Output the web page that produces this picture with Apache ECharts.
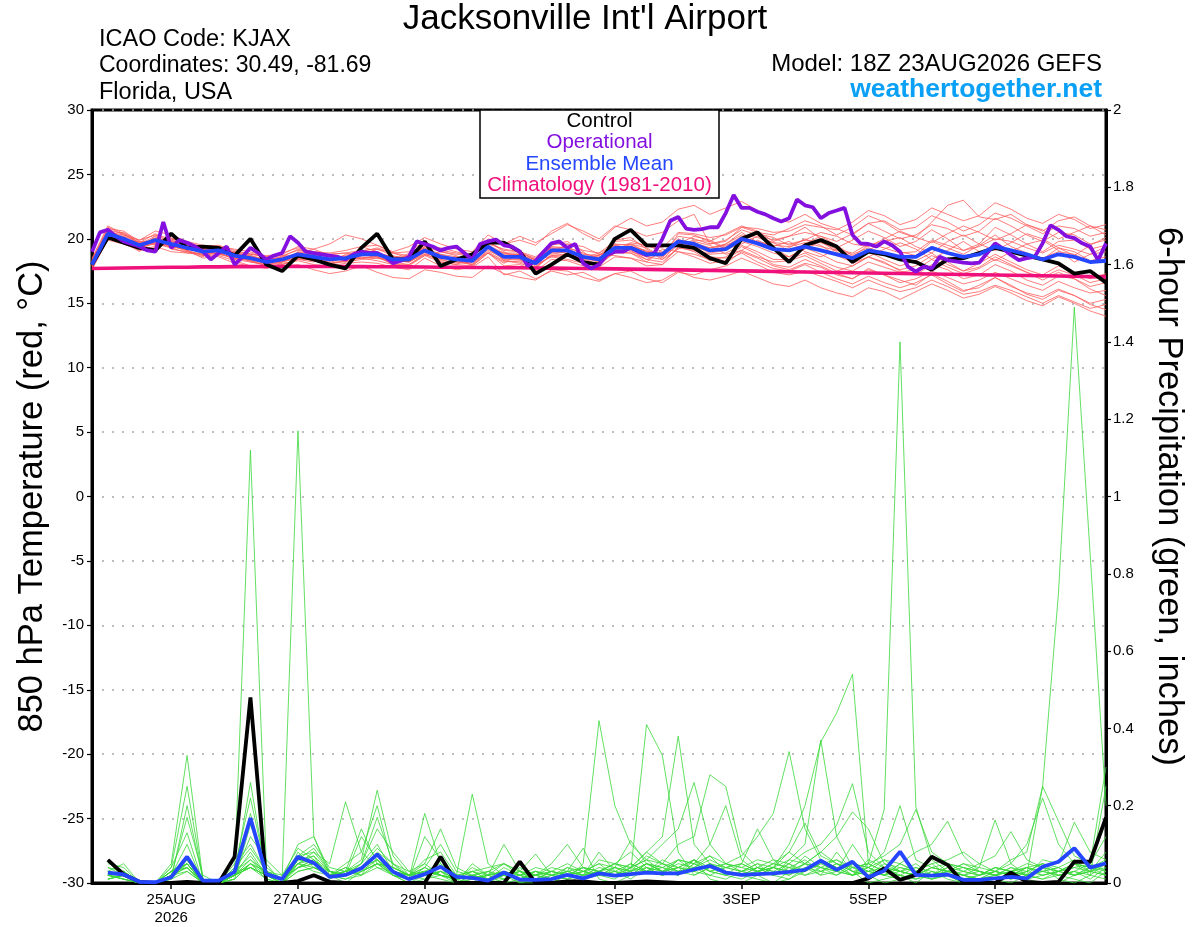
<!DOCTYPE html>
<html>
<head>
<meta charset="utf-8">
<script src="https://cdn.jsdelivr.net/npm/echarts@6.0.0/dist/echarts.min.js"></script>
<style>html,body{margin:0;padding:0;background:#fff}#c{width:1200px;height:927px}</style>
</head>
<body>
<div id="c"></div>
<script>
// ---------- axis ticks ----------
const tickHours = [30, 78, 126, 198, 246, 294, 342];
const tickLabels = ['25AUG\n2026', '27AUG', '29AUG', '1SEP', '3SEP', '5SEP', '7SEP'];

// ---------- 850 hPa temperature (deg C), 6-hourly from 18Z 23AUG ----------
const controlTemp = [18.0,20.1,19.7,19.3,19.1,20.4,19.3,19.4,19.3,18.7,20.0,18.0,17.5,18.7,18.4,18.0,17.7,19.3,20.4,18.4,18.4,19.8,17.9,18.4,18.8,19.7,19.7,19.0,17.3,18.0,18.8,18.2,18.0,20.0,20.7,19.5,19.5,19.5,19.3,18.5,18.1,20.0,20.5,19.3,18.2,19.5,19.9,19.4,18.2,19.0,18.8,18.4,18.2,17.6,18.4,18.5,18.9,19.3,19.0,18.7,18.4,18.1,17.3,17.5,16.6];
const meanTemp = [18.0,20.4,20.0,19.5,19.9,19.6,19.3,19.0,19.1,18.7,18.5,18.2,18.4,18.8,18.6,18.4,18.5,18.8,18.8,18.4,18.4,19.1,18.6,18.4,18.3,19.4,18.6,18.6,18.1,19.1,19.1,18.6,18.4,19.3,19.3,18.8,18.8,19.8,19.6,19.1,19.2,20.0,19.65,19.2,19.1,19.4,19.1,18.8,18.5,19.1,18.9,18.6,18.6,19.3,18.9,18.6,18.8,19.4,19.1,18.8,18.4,18.8,18.6,18.2,18.3];
const climatologyTemp = [17.7,17.72,17.74,17.76,17.78,17.8,17.8,17.82,17.82,17.84,17.84,17.85,17.85,17.85,17.85,17.85,17.84,17.84,17.83,17.83,17.82,17.81,17.8,17.79,17.78,17.77,17.76,17.75,17.74,17.73,17.72,17.7,17.69,17.67,17.65,17.63,17.61,17.59,17.57,17.55,17.53,17.51,17.49,17.47,17.45,17.43,17.41,17.39,17.37,17.35,17.33,17.31,17.29,17.27,17.25,17.23,17.21,17.19,17.17,17.15,17.13,17.11,17.09,17.07,17.05];
// operational run, 3-hourly
const operationalTemp = [19.0,20.5,20.7,20.2,19.8,19.6,19.4,19.1,19.0,21.3,19.3,19.9,19.7,19.4,19.0,18.4,18.9,19.4,18.0,18.6,19.3,18.9,18.4,18.7,18.9,20.2,19.7,19.0,18.9,18.8,18.7,18.6,18.4,18.8,19.0,18.9,18.9,18.6,18.1,18.3,18.6,19.8,19.6,19.4,19.1,19.3,19.4,18.9,18.4,19.6,19.8,19.95,19.5,19.4,19.0,17.9,18.3,19.0,19.65,19.8,19.3,19.6,18.1,17.7,18.0,18.75,19.0,19.0,19.3,19.0,18.75,18.9,20.0,21.4,21.7,20.8,20.7,20.75,20.9,20.9,22.0,23.4,22.4,22.4,22.1,21.9,21.6,21.35,21.6,23.05,22.6,22.45,21.6,22.0,22.2,22.4,20.3,19.65,19.6,19.4,19.8,19.5,19.0,17.85,17.45,17.85,17.7,18.6,18.35,18.25,18.15,18.1,18.15,18.9,19.65,19.25,18.75,18.35,18.5,18.6,19.65,21.05,20.7,20.2,20.05,19.65,19.4,18.35,19.65];

// ensemble members (red)
const t01 = [18.2,20.8,20.6,19.8,19.5,20.1,19.6,19.2,18.8,19.0,18.2,18.0,18.6,19.2,18.9,18.0,18.3,19.4,19.0,18.1,18.9,19.5,18.2,18.0,18.7,19.8,19.0,18.4,17.6,19.5,19.8,19.0,18.0,19.9,20.1,19.2,18.5,20.4,20.3,19.8,20.4,21.0,20.6,19.8,20.2,20.9,20.0,19.3,19.9,20.6,20.1,19.4,19.8,20.7,20.0,19.1,19.6,20.9,20.3,19.6,19.0,19.8,19.9,19.2,19.5];
const t02 = [17.9,20.2,19.8,19.0,20.3,19.2,19.0,18.6,19.4,18.4,18.9,18.5,18.0,18.4,18.2,18.8,18.9,18.5,18.3,18.0,17.9,18.7,19.0,18.7,17.9,18.9,18.1,18.9,18.5,18.6,18.4,18.1,18.8,18.7,18.5,18.2,19.2,19.0,18.8,18.4,18.1,19.0,18.5,17.9,17.6,18.1,17.8,17.2,16.9,17.6,17.2,16.6,16.9,17.5,17.0,16.5,16.8,17.4,16.9,16.4,16.0,16.7,16.2,15.8,16.0];
const t03 = [18.4,20.9,20.3,19.9,20.6,20.3,19.8,19.5,19.4,19.2,19.0,18.6,18.9,19.3,19.0,18.9,19.1,19.4,19.5,18.9,19.0,19.8,19.1,18.9,18.8,20.0,19.6,19.9,19.5,20.6,21.2,20.4,19.8,20.9,21.6,21.0,21.3,22.3,22.6,21.9,22.4,22.9,22.2,21.5,21.3,21.9,21.2,20.8,20.3,21.2,21.4,20.7,20.9,21.8,21.3,20.6,21.1,22.0,21.6,21.0,20.4,21.0,20.8,20.2,20.5];
const t04 = [17.7,19.9,19.6,19.2,19.4,19.0,18.9,18.8,18.6,18.1,17.9,17.8,17.9,18.0,17.6,17.3,17.5,17.9,17.4,17.0,16.9,17.6,17.4,17.1,17.0,17.9,17.3,17.0,16.8,17.6,17.5,17.0,16.7,17.3,17.5,16.9,16.6,17.4,17.2,17.6,17.9,18.5,18.0,17.4,17.2,17.5,17.1,16.7,16.2,16.8,16.3,15.9,16.2,16.8,16.3,15.7,15.9,16.4,16.0,15.5,15.0,15.6,15.1,14.6,14.9];
const t05 = [18.1,20.5,20.2,19.7,19.6,19.9,19.4,19.2,19.3,18.9,18.7,18.4,18.5,18.9,19.2,18.7,18.2,19.0,19.3,18.9,18.5,19.4,19.3,19.0,18.6,19.6,19.2,19.0,18.3,18.9,19.6,19.4,18.8,19.1,19.7,19.5,19.0,19.6,20.2,19.9,19.3,19.8,20.4,20.1,19.5,19.9,20.5,20.2,19.6,19.4,20.0,20.6,20.1,19.7,20.4,21.0,20.5,19.9,20.4,21.1,20.7,20.0,20.5,21.0,20.3];
const t06 = [18.3,20.7,19.9,19.3,20.1,19.8,19.1,18.7,19.2,18.5,18.3,18.1,18.7,18.6,18.3,18.1,18.8,19.0,18.6,18.2,18.6,19.3,18.4,18.1,18.2,19.5,18.3,18.1,17.7,18.8,19.0,18.3,17.9,19.0,18.9,18.2,18.0,19.4,19.0,18.3,18.6,19.4,18.8,18.0,17.8,18.4,17.9,17.3,16.9,17.7,17.2,16.8,16.4,17.3,16.7,16.0,16.2,17.0,16.4,15.7,15.3,16.0,15.6,14.9,14.5];
const t07 = [18.0,20.3,20.1,19.6,20.2,19.4,19.2,19.3,19.0,18.8,18.6,18.3,18.2,19.0,18.8,18.6,18.6,18.7,19.2,18.7,18.3,19.0,18.8,18.6,18.5,19.3,18.9,18.7,18.4,19.3,18.8,18.5,18.7,19.6,19.0,18.6,18.9,20.0,19.4,19.1,19.6,20.5,19.7,19.4,19.8,19.0,18.6,19.2,18.6,19.5,19.8,19.0,18.7,19.8,19.3,18.8,19.5,20.3,19.4,18.9,18.4,19.3,19.0,18.3,18.6];
const t08 = [17.8,20.1,19.7,19.4,19.7,19.5,19.5,18.9,18.9,18.5,18.4,18.2,18.3,18.5,18.7,18.3,18.4,18.6,18.5,18.4,18.2,18.9,18.5,18.3,18.0,19.1,18.5,18.5,17.9,18.7,18.8,18.4,18.3,18.9,19.4,19.1,18.4,19.2,19.8,19.5,18.8,19.1,19.9,19.3,18.6,19.2,19.8,19.0,18.1,18.6,19.2,19.7,19.2,18.4,19.1,19.8,19.0,18.3,19.0,19.6,19.9,19.1,18.2,18.8,19.4];
const t09 = [18.5,21.0,20.4,19.6,19.8,20.0,19.7,19.4,19.5,19.1,18.8,18.7,18.8,19.4,19.2,19.6,20.3,20.0,19.5,19.0,19.4,20.1,19.6,19.2,19.0,20.3,19.6,20.2,19.7,20.4,21.1,20.6,20.0,21.0,20.7,20.2,20.5,21.4,21.9,19.6,19.8,20.9,20.5,20.3,20.8,21.4,21.0,20.3,20.9,21.8,21.3,20.5,20.1,21.3,22.6,23.0,21.7,21.5,21.9,21.1,20.6,21.4,21.7,21.0,20.7];
const t10 = [18.2,20.6,19.6,19.1,19.3,19.7,19.1,18.5,18.7,18.3,17.9,17.7,18.1,18.3,18.0,17.9,18.1,18.2,18.1,17.8,17.6,18.5,17.9,17.6,17.8,18.6,17.2,17.5,16.9,17.5,17.2,17.4,16.8,17.3,17.0,16.6,16.8,17.5,17.0,16.8,17.1,17.5,17.0,16.5,16.3,16.8,16.2,15.8,15.5,16.2,15.9,15.3,15.9,16.5,16.0,15.4,15.7,16.3,15.8,15.2,14.8,15.5,15.0,14.4,14.0];
const t11 = [17.6,20.0,20.2,19.3,19.9,19.3,19.3,19.1,19.2,18.6,18.5,18.4,18.6,18.8,18.4,18.5,18.5,19.1,18.9,18.6,18.7,19.2,18.7,18.4,18.5,19.4,18.8,18.8,18.2,19.2,19.4,18.8,18.7,19.6,19.5,19.0,18.7,19.9,19.7,19.3,19.6,20.3,20.1,19.7,19.6,19.9,19.7,19.2,18.9,19.6,19.3,18.9,19.0,19.9,19.5,19.1,19.4,20.0,19.8,19.3,18.9,19.5,19.2,18.8,19.0];
const t12 = [18.0,20.4,20.5,19.7,20.4,19.7,19.4,19.0,18.9,18.8,18.6,18.0,18.3,18.7,18.6,18.3,18.6,18.8,18.6,18.1,18.5,19.0,18.6,18.2,18.1,19.2,18.4,18.4,18.0,19.0,19.1,18.7,18.4,19.1,19.2,18.6,18.4,19.6,19.2,18.8,18.9,19.5,19.0,18.4,18.4,18.9,18.3,17.8,17.5,18.2,17.8,17.4,17.6,18.4,17.8,17.3,17.7,18.4,17.9,17.4,17.0,17.6,17.2,16.6,16.9];
const t13 = [18.4,20.6,19.9,19.8,19.8,19.5,19.0,18.8,19.1,18.7,18.3,17.9,18.2,18.6,18.8,18.6,18.4,18.5,18.7,18.5,18.2,18.8,18.4,18.6,18.2,18.9,18.2,18.3,18.0,18.6,18.7,18.5,18.9,19.5,19.1,18.4,18.9,19.7,19.4,19.0,19.4,20.2,19.6,19.1,19.3,20.0,19.5,18.7,18.2,19.0,18.4,17.9,18.3,18.9,18.0,17.5,18.1,18.8,18.2,17.6,17.2,17.9,17.4,16.9,17.3];
const t14 = [18.1,20.2,19.8,19.5,20.0,19.9,19.5,19.1,19.0,18.9,18.7,18.3,18.4,18.9,18.7,18.5,18.7,18.9,18.9,18.6,18.4,19.1,18.6,18.5,18.4,19.5,18.6,18.6,18.3,19.3,19.3,18.6,18.2,19.0,19.6,19.3,18.6,19.5,19.9,19.8,19.2,19.6,20.2,19.7,19.1,19.6,20.2,19.5,18.7,19.1,19.8,20.1,19.4,18.9,19.8,20.3,19.6,19.1,19.7,20.4,20.0,19.3,18.7,19.5,20.1];
const t15 = [17.9,20.3,20.0,19.2,19.7,19.8,19.6,19.0,18.8,18.6,18.4,18.1,18.4,18.8,18.5,18.3,18.6,18.9,18.7,18.3,18.2,19.0,18.7,18.3,18.2,19.3,18.7,18.8,18.2,18.9,19.0,18.6,18.6,19.3,19.3,18.9,18.7,19.8,19.5,18.9,19.1,19.8,19.4,18.9,18.6,19.3,18.8,18.2,17.9,18.6,18.1,17.6,17.9,18.7,18.2,17.5,17.8,18.6,18.0,17.4,16.8,17.4,16.9,16.3,16.6];
const t16 = [18.3,20.5,20.3,19.7,19.6,19.4,19.2,19.2,19.3,18.9,18.6,18.4,18.5,18.9,18.7,18.7,18.5,18.8,18.9,18.5,18.6,19.3,18.8,18.4,18.3,19.5,18.9,18.9,18.4,19.4,19.3,18.9,18.5,19.5,19.6,19.0,18.9,20.2,20.0,19.6,19.9,20.7,20.3,19.9,20.2,20.5,20.2,19.8,20.4,21.2,20.6,20.0,20.3,21.1,20.8,20.2,20.6,21.6,21.0,20.3,19.8,20.5,20.3,19.6,19.9];
const t17 = [17.8,20.0,19.8,19.3,19.8,19.5,19.1,18.7,18.9,18.4,18.2,18.0,18.2,18.5,18.3,18.1,18.3,18.5,18.6,18.0,18.0,18.7,18.2,18.0,17.9,18.9,17.9,18.0,17.5,18.4,18.3,17.9,17.8,18.6,18.5,17.9,18.0,19.0,18.6,18.1,18.3,18.9,18.2,17.7,17.5,18.0,17.4,16.9,16.5,17.1,16.6,16.2,16.6,17.2,16.5,15.9,16.4,17.0,16.3,15.8,15.5,16.1,15.6,15.0,15.3];
const t18 = [18.2,20.7,20.4,19.9,20.3,20.0,19.6,19.3,19.4,19.0,18.8,18.6,18.7,19.1,19.0,18.8,18.9,19.1,19.2,18.9,18.7,19.4,19.0,18.8,18.7,19.8,19.1,19.0,18.6,19.6,19.6,19.1,18.9,19.8,19.9,19.4,19.3,20.5,20.4,20.1,20.3,20.9,20.8,20.5,20.6,21.1,20.9,20.7,21.3,22.2,21.8,21.1,21.5,22.4,21.9,21.4,21.8,22.8,22.3,21.6,21.2,21.9,21.5,20.8,21.1];
const t19 = [18.0,20.2,19.7,19.4,19.6,19.3,18.9,18.9,18.8,18.5,18.3,17.9,18.0,18.4,18.4,18.2,18.2,18.4,18.5,18.2,18.0,18.8,18.3,18.2,18.0,19.0,18.3,18.2,17.8,18.7,18.8,18.3,18.1,18.9,18.9,18.4,18.2,19.3,19.1,18.6,18.5,19.1,18.6,18.2,18.3,18.7,18.1,17.5,17.9,18.6,18.2,17.5,17.2,18.0,17.6,16.9,17.2,18.0,17.5,16.8,16.4,17.1,16.9,16.1,15.6];
const t20 = [18.2,20.5,20.1,19.6,20.0,19.6,19.4,19.1,19.2,18.8,18.5,18.2,18.4,18.7,18.7,18.4,18.6,18.7,18.8,18.4,18.4,19.0,18.5,18.4,18.3,19.3,18.6,18.6,18.0,19.0,19.1,18.6,18.4,19.3,19.3,18.7,18.7,19.8,19.6,19.3,19.5,20.0,19.8,19.5,19.4,19.7,19.4,19.1,18.8,19.3,18.9,18.5,18.7,19.4,19.0,18.6,18.8,19.4,19.1,18.7,18.5,19.0,18.8,18.2,18.4];

// ---------- 6-hour precipitation (inches), periods ending 00Z 24AUG ... 18Z 08SEP ----------
const controlPrecip = [0.06,0.022,0.003,0,0,0.003,0,0,0.068,0.48,0,0,0.005,0.02,0.003,0,0,0,0,0,0,0.068,0,0,0,0,0.055,0,0,0.004,0.004,0,0,0.002,0.004,0.002,0,0,0,0,0,0,0,0,0,0,0,0,0.012,0.038,0.008,0.021,0.068,0.047,0,0,0,0.027,0.003,0,0.003,0.055,0.055,0.17];
const meanPrecip = [0.027,0.022,0.003,0.002,0.015,0.068,0.006,0.006,0.029,0.168,0.023,0.01,0.068,0.052,0.016,0.021,0.038,0.074,0.029,0.01,0.023,0.042,0.016,0.013,0.006,0.027,0.009,0.008,0.01,0.021,0.012,0.025,0.019,0.023,0.027,0.025,0.025,0.035,0.044,0.027,0.021,0.023,0.025,0.029,0.034,0.058,0.034,0.055,0.015,0.032,0.081,0.021,0.019,0.022,0.008,0.008,0.012,0.016,0.012,0.042,0.055,0.09,0.04,0.051];

// ensemble members (green)
const p01 = [0.03,0.02,0,0,0.02,0.05,0,0,0.03,1.12,0.05,0,0.08,0.04,0.02,0,0.03,0.06,0.02,0,0.01,0.03,0,0.02,0,0.02,0,0,0.01,0.03,0.09,0.01,0,0.02,0.05,0.03,0.02,0.06,0.01,0,0,0.02,0,0.01,0.04,0.02,0.08,0.03,0,0.01,0.02,0,0.03,0.01,0,0,0.01,0,0.02,0.04,0.01,0,0.02,0.05];
const p02 = [0.05,0.04,0,0,0.04,0.13,0,0.01,0.02,0.26,0.02,0,0.06,0.09,0.03,0.02,0.05,0.1,0.03,0.01,0.18,0.05,0,0.02,0.01,0.03,0,0.01,0,0.02,0.03,0.05,0.02,0.04,0.08,0.05,0.03,0.04,0.02,0.01,0.03,0.05,0.02,0.06,0.1,0.37,0.12,0.04,0.02,0,0.01,0.03,0.05,0.02,0,0,0,0.03,0.01,0,0,0.02,0.03,0.08];
const p03 = [0.02,0.01,0,0,0.05,0.33,0.01,0,0.04,0.22,0.03,0.01,0.1,0.12,0.02,0.04,0.02,0.08,0.05,0.01,0.04,0.02,0.01,0.03,0.02,0.1,0.03,0,0.02,0.01,0.02,0.08,0.03,0.01,0.04,0.02,0.06,0.03,0.05,0.02,0.01,0.03,0.04,0.08,0.05,0.02,0.03,0.1,0.04,0.02,0.03,0.05,0.02,0.04,0.02,0.04,0.163,0.05,0.02,0.01,0.03,0.05,0.02,0.25];
const p04 = [0.01,0.02,0,0,0.01,0.06,0,0,0.02,0.18,0.02,0,0.05,0.07,0.01,0.03,0.14,0.05,0.02,0,0.02,0.01,0,0.05,0.02,0,0.01,0.03,0.01,0,0.02,0.06,0.05,0.03,0.41,0.33,0.08,0.02,0.04,0.03,0.02,0.01,0,0.03,0.07,0.04,0.02,0.05,0.03,0.02,0.05,0.03,0.01,0.02,0,0.01,0.02,0.01,0.03,0.05,0.02,0.01,0,0.03];
const p05 = [0.04,0.03,0,0,0.02,0.04,0,0,0.01,0.15,0.04,0.01,1.17,0.12,0.03,0.02,0.04,0.07,0.03,0.02,0.05,0.02,0.01,0,0.03,0.05,0.02,0.01,0.03,0.02,0.01,0.03,0.02,0.05,0.03,0.02,0.04,0.06,0.03,0.02,0.05,0.03,0.02,0.01,0.03,0.06,0.04,0.02,0.05,0.03,0.02,0.01,0.03,0.02,0.01,0.02,0.04,0.03,0.02,0.06,0.05,0.157,0.08,0.06];
const p06 = [0.02,0.02,0,0,0.03,0.05,0,0,0.02,0.12,0.06,0.02,0.07,0.1,0.04,0.03,0.06,0.24,0.07,0.02,0.03,0.04,0,0.01,0.02,0.03,0.01,0.02,0.01,0.04,0.03,0.02,0.04,0.03,0.07,0.05,0.1,0.12,0.28,0.25,0.08,0.04,0.02,0.05,0.03,0.06,0.04,0.02,0.03,0.02,0.01,0.02,0.04,0.03,0.02,0.01,0.03,0.02,0.01,0.02,0.03,0.02,0.04,0.05];
const p07 = [0.03,0.05,0,0,0.04,0.25,0.01,0,0.05,0.1,0.03,0.02,0.09,0.06,0.02,0.01,0.03,0.05,0.04,0.02,0.06,0.08,0.02,0.03,0.01,0.04,0.02,0.03,0.02,0.01,0.05,0.42,0.2,0.1,0.06,0.03,0.05,0.04,0.07,0.03,0.02,0.04,0.03,0.05,0.02,0.03,0.05,0.02,0.04,0.06,0.03,0.02,0.01,0.03,0.04,0.02,0.03,0.05,0.1,0.22,0.1,0.05,0.03,0.02];
const p08 = [0.02,0.03,0,0,0.03,0.06,0,0,0.02,0.08,0.02,0.01,0.05,0.08,0.05,0.21,0.08,0.04,0.02,0.01,0.02,0.03,0.01,0.02,0,0.01,0.02,0.01,0.03,0.02,0.04,0.03,0.05,0.08,0.04,0.03,0.06,0.05,0.1,0.2,0.06,0.03,0.04,0.02,0.05,0.08,0.05,0.03,0.02,0.04,0.02,0.01,0.02,0.03,0.05,0.03,0.02,0.01,0.02,0.03,0.04,0.02,0.03,0.04];
const p09 = [0.01,0.02,0,0,0.01,0.2,0.01,0,0.03,0.07,0.02,0,0.04,0.05,0.03,0.02,0.04,0.06,0.03,0.01,0.03,0.05,0.02,0.23,0.05,0.02,0.01,0.02,0.04,0.03,0.02,0.03,0.04,0.02,0.03,0.05,0.04,0.03,0.05,0.03,0.02,0.03,0.05,0.04,0.06,0.03,0.02,0.04,0.05,0.19,1.4,0.197,0.06,0.03,0.02,0.01,0.03,0.02,0.04,0.03,0.02,0.03,0.05,0.03];
const p10 = [0.03,0.02,0,0,0.02,0.04,0,0,0.01,0.05,0.01,0,0.03,0.04,0.02,0.03,0.05,0.17,0.05,0.02,0.01,0.02,0,0.01,0.02,0.03,0.02,0,0.01,0.02,0.01,0.02,0.03,0.02,0.04,0.03,0.02,0.05,0.03,0.04,0.05,0.14,0.06,0.03,0.02,0.04,0.03,0.02,0.03,0.04,0.03,0.02,0.01,0.02,0.03,0.02,0.04,0.03,0.02,0.25,0.75,1.49,0.85,0.2];
const p11 = [0.02,0.01,0,0,0.03,0.05,0,0,0.02,0.04,0.02,0.01,0.06,0.07,0.03,0.02,0.12,0.06,0.03,0.02,0.04,0.02,0.01,0.02,0.03,0.01,0.02,0.03,0.02,0.01,0.03,0.02,0.01,0.04,0.06,0.05,0.03,0.02,0.04,0.05,0.07,0.12,0.18,0.34,0.14,0.06,0.03,0.05,0.04,0.02,0.05,0.03,0.02,0.04,0.03,0.05,0.03,0.06,0.08,0.25,0.16,0.07,0.05,0.12];
const p12 = [0.04,0.02,0,0,0.02,0.17,0.02,0,0.03,0.06,0.03,0.01,0.04,0.06,0.02,0.04,0.03,0.05,0.02,0.01,0.02,0.03,0.01,0.04,0.02,0.01,0.03,0.02,0.05,0.1,0.04,0.02,0.03,0.05,0.03,0.04,0.02,0.05,0.03,0.02,0.03,0.02,0.04,0.03,0.05,0.04,0.06,0.03,0.02,0.05,0.04,0.03,0.05,0.06,0.08,0.05,0.07,0.133,0.06,0.04,0.03,0.05,0.04,0.02];
const p13 = [0.02,0.03,0,0,0.01,0.05,0,0,0.02,0.04,0.02,0.01,0.05,0.03,0.02,0.05,0.08,0.2,0.04,0.02,0.03,0.02,0.01,0.02,0.01,0.02,0.03,0.01,0.02,0.03,0.02,0.03,0.05,0.04,0.08,0.12,0.38,0.1,0.05,0.03,0.02,0.03,0.02,0.04,0.03,0.05,0.03,0.02,0.06,0.04,0.03,0.02,0.04,0.03,0.02,0.01,0.02,0.03,0.02,0.01,0.02,0.03,0.02,0.01];
const p14 = [0.03,0.02,0,0,0.02,0.1,0,0,0.02,0.05,0.02,0,0.06,0.05,0.02,0.03,0.04,0.09,0.05,0.03,0.05,0.14,0.04,0.02,0.01,0.03,0.02,0.04,0.03,0.02,0.01,0.03,0.02,0.03,0.05,0.04,0.03,0.06,0.04,0.03,0.02,0.04,0.03,0.02,0.04,0.03,0.05,0.04,0.03,0.06,0.05,0.08,0.1,0.16,0.07,0.03,0.02,0.04,0.03,0.02,0.03,0.04,0.03,0.05];
const p15 = [0.01,0.02,0,0,0.02,0.06,0,0,0.04,0.09,0.03,0.01,0.07,0.08,0.03,0.02,0.05,0.14,0.08,0.03,0.02,0.04,0.02,0.01,0.02,0.05,0.03,0.02,0.01,0.02,0.03,0.02,0.04,0.03,0.05,0.04,0.06,0.05,0.07,0.05,0.04,0.06,0.05,0.08,0.155,0.07,0.05,0.03,0.04,0.02,0.04,0.03,0.02,0.05,0.04,0.03,0.02,0.03,0.04,0.02,0.03,0.02,0.04,0.03];
const p16 = [0.02,0.01,0,0,0.03,0.04,0,0,0.02,0.06,0.02,0.01,0.04,0.06,0.02,0.03,0.04,0.06,0.02,0.01,0.12,0.06,0.02,0.03,0.01,0.02,0.01,0.03,0.02,0.04,0.02,0.04,0.03,0.02,0.05,0.03,0.04,0.06,0.03,0.05,0.03,0.05,0.04,0.1,0.2,0.365,0.44,0.54,0.05,0.03,0.02,0.04,0.03,0.02,0.01,0.02,0.03,0.02,0.04,0.03,0.02,0.03,0.01,0.04];
const p17 = [0.03,0.02,0,0,0.01,0.03,0,0,0.03,0.04,0.01,0,0.05,0.04,0.03,0.02,0.03,0.05,0.03,0.02,0.04,0.1,0.03,0.02,0.01,0.02,0.03,0.02,0.01,0.03,0.02,0.03,0.02,0.04,0.03,0.06,0.04,0.03,0.05,0.04,0.03,0.04,0.06,0.05,0.08,0.1,0.15,0.257,0.08,0.04,0.03,0.02,0.04,0.03,0.02,0.03,0.02,0.04,0.02,0.03,0.04,0.02,0.03,0.02];
const p18 = [0.02,0.03,0,0,0.02,0.05,0,0,0.01,0.05,0.03,0.01,0.04,0.05,0.02,0.01,0.02,0.04,0.03,0.02,0.03,0.02,0.01,0.03,0.04,0.05,0.03,0.075,0.02,0.03,0.04,0.03,0.02,0.03,0.04,0.02,0.03,0.04,0.06,0.04,0.05,0.03,0.04,0.06,0.05,0.08,0.12,0.184,0.14,0.05,0.03,0.04,0.02,0.03,0.05,0.04,0.03,0.02,0.03,0.05,0.04,0.06,0.03,0.05];
const p19 = [0.01,0.02,0,0,0.02,0.03,0,0,0.02,0.04,0.02,0,0.03,0.04,0.02,0.03,0.02,0.05,0.04,0.02,0.03,0.02,0.01,0.02,0.03,0.02,0.04,0.02,0.03,0.05,0.03,0.05,0.04,0.11,0.05,0.03,0.04,0.03,0.02,0.04,0.03,0.02,0.04,0.03,0.05,0.04,0.03,0.05,0.04,0.08,0.2,0.06,0.04,0.05,0.03,0.02,0.04,0.03,0.05,0.04,0.03,0.05,0.04,0.06];
const p20 = [0.02,0.01,0,0,0.03,0.04,0,0,0.02,0.05,0.03,0.01,0.05,0.06,0.03,0.02,0.04,0.07,0.04,0.02,0.02,0.03,0.02,0.01,0.02,0.03,0.01,0.02,0.03,0.02,0.04,0.03,0.05,0.04,0.06,0.1,0.14,0.26,0.1,0.05,0.04,0.03,0.05,0.04,0.03,0.05,0.06,0.04,0.05,0.07,0.1,0.19,0.08,0.05,0.04,0.03,0.02,0.03,0.04,0.05,0.03,0.04,0.05,0.3];

const tempMembers = [t01,t02,t03,t04,t05,t06,t07,t08,t09,t10,t11,t12,t13,t14,t15,t16,t17,t18,t19,t20];
const precipMembers = [p01,p02,p03,p04,p05,p06,p07,p08,p09,p10,p11,p12,p13,p14,p15,p16,p17,p18,p19,p20];

// ---------- build ----------
const FONT = "'Liberation Sans', Arial, Helvetica, sans-serif";
const at6 = vals => vals.map((v, i) => [i * 6, v]);          // temperatures start at 18Z 23AUG
const at3 = vals => vals.map((v, i) => [i * 3, v]);
const precipAt = vals => vals.map((v, i) => [(i + 1) * 6, v]); // period-ending times

const series = [];
tempMembers.forEach(arr => series.push({
  type: 'line', xAxisIndex: 0, yAxisIndex: 0, data: at6(arr), symbol: 'none', silent: true,
  lineStyle: { color: '#ff5c5c', width: 0.8 }
}));
precipMembers.forEach(arr => series.push({
  type: 'line', xAxisIndex: 0, yAxisIndex: 1, data: precipAt(arr), symbol: 'none', silent: true,
  lineStyle: { color: '#3ad83a', width: 0.8 }
}));
series.push({ type: 'line', yAxisIndex: 0, data: at6(climatologyTemp), symbol: 'none', silent: true,
  lineStyle: { color: '#f0107c', width: 3.6 } });
series.push({ type: 'line', yAxisIndex: 0, data: at6(controlTemp), symbol: 'none', silent: true,
  lineStyle: { color: '#000000', width: 3.8 } });
series.push({ type: 'line', yAxisIndex: 1, data: precipAt(controlPrecip), symbol: 'none', silent: true,
  lineStyle: { color: '#000000', width: 3.8 } });
series.push({ type: 'line', yAxisIndex: 0, data: at3(operationalTemp), symbol: 'none', silent: true,
  lineStyle: { color: '#8410e0', width: 3.8 } });
series.push({ type: 'line', yAxisIndex: 0, data: at6(meanTemp), symbol: 'none', silent: true,
  lineStyle: { color: '#2446ff', width: 3.8 } });
series.push({ type: 'line', yAxisIndex: 1, data: precipAt(meanPrecip), symbol: 'none', silent: true,
  lineStyle: { color: '#2446ff', width: 3.8 } });

const txt = (x, y, text, size, color, align, weight) => ({
  type: 'text', x: x, y: y, z: 120,
  style: { text: text, fill: color, font: (weight || 'normal') + ' ' + size + 'px ' + FONT,
           textAlign: align, textVerticalAlign: 'middle', align: align, verticalAlign: 'middle' }
});

const option = {
  animation: false,
  backgroundColor: '#ffffff',
  grid: { left: 92, right: 94, top: 110, bottom: 44, show: true, borderColor: '#000', borderWidth: 3, backgroundColor: 'transparent' },
  xAxis: [{
    type: 'value', min: 0, max: 384,
    axisLine: { show: true, onZero: false, lineStyle: { color: '#000', width: 3 } },
    axisTick: { show: true, customValues: tickHours, length: 6, inside: false, lineStyle: { color: '#000', width: 1.5 } },
    axisLabel: { customValues: tickHours, color: '#000', fontSize: 15, fontFamily: FONT, margin: 8, lineHeight: 18,
      formatter: v => { const k = tickHours.indexOf(Math.round(v)); return k >= 0 ? tickLabels[k] : ''; } },
    splitLine: { show: false }
  }],
  yAxis: [{
    type: 'value', position: 'left', min: -30, max: 30, interval: 5,
    axisLine: { show: true, onZero: false, lineStyle: { color: '#000', width: 3 } },
    axisTick: { show: true, length: 5, lineStyle: { color: '#000', width: 1.2 } },
    axisLabel: { color: '#000', fontSize: 15, fontFamily: FONT, margin: 8 },
    splitLine: { show: true, lineStyle: { color: '#a8a8a8', width: 1.6, type: [2, 8] } },
    name: '850 hPa Temperature (red, °C)', nameLocation: 'middle', nameGap: 42,
    nameTextStyle: { color: '#000', fontSize: 34.5, fontFamily: FONT }
  }, {
    type: 'value', position: 'right', min: 0, max: 2, interval: 0.2,
    axisLine: { show: true, onZero: false, lineStyle: { color: '#000', width: 3 } },
    axisTick: { show: true, length: 5, lineStyle: { color: '#000', width: 1.2 } },
    axisLabel: { color: '#000', fontSize: 15, fontFamily: FONT, margin: 7 },
    splitLine: { show: false },
    name: '6-hour Precipitation (green, inches)', nameLocation: 'middle', nameGap: 45, nameRotate: -90,
    nameTextStyle: { color: '#000', fontSize: 34.5, fontFamily: FONT }
  }],
  graphic: [
    txt(585, 19, "Jacksonville Int'l Airport", 35, '#000', 'center'),
    txt(99, 40, 'ICAO Code: KJAX', 23.5, '#000', 'left'),
    txt(99, 66, 'Coordinates: 30.49, -81.69', 23, '#000', 'left'),
    txt(99, 93, 'Florida, USA', 23.5, '#000', 'left'),
    txt(1102, 64, 'Model: 18Z 23AUG2026 GEFS', 24, '#000', 'right'),
    txt(1102, 90, 'weathertogether.net', 26.5, '#0aa0f5', 'right', 'bold'),
    { type: 'rect', z: 110, shape: { x: 480, y: 110, width: 239, height: 88 },
      style: { fill: '#ffffff', stroke: '#000000', lineWidth: 1.5 } },
    txt(599.5, 121, 'Control', 20.5, '#000000', 'center'),
    txt(599.5, 142.5, 'Operational', 20.5, '#8410e0', 'center'),
    txt(599.5, 164, 'Ensemble Mean', 20.5, '#2446ff', 'center'),
    txt(599.5, 185.5, 'Climatology (1981-2010)', 20.5, '#f0107c', 'center')
  ],
  series: series
};

const chart = echarts.init(document.getElementById('c'), null, { renderer: 'canvas' });
chart.setOption(option);
</script>
</body>
</html>
